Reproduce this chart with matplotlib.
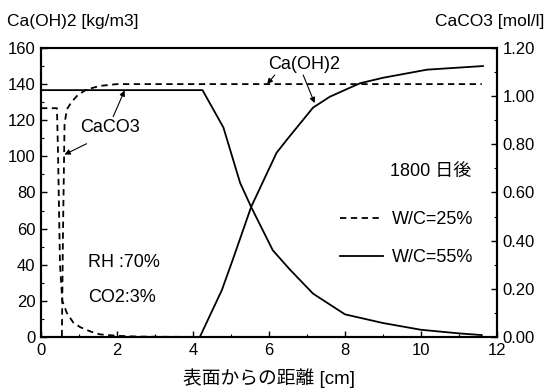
import matplotlib
matplotlib.use("Agg")
import matplotlib.pyplot as plt
from matplotlib.ticker import MultipleLocator, FormatStrFormatter

plt.rcParams['font.family'] = ['Liberation Sans', 'Noto Sans CJK JP']

# --- data -------------------------------------------------------------
# W/C = 55 %  (solid)
x55_caoh2 = [0, 4.18, 4.76, 5.05, 5.53, 6.2, 6.5, 7.16, 7.6, 8.13, 8.4, 9.0, 10.16, 11.63]
caoh2_55 = [0, 0, 26, 43, 72, 102, 110, 127, 133, 138, 140.5, 143.5, 148, 150]   # kg/m3

x55_caco3 = [0, 4.25, 4.8, 5.24, 5.53, 6.1, 6.55, 7.16, 8.0, 9.0, 10.0, 11.0, 11.6]
caco3_55 = [1.025, 1.025, 0.87, 0.64, 0.54, 0.36, 0.28, 0.18, 0.094, 0.058, 0.03, 0.015, 0.008]  # mol/l

# W/C = 25 %  (dashed)
x25_caoh2 = [0, 0.55, 0.58, 0.62, 0.68, 0.8, 0.97, 1.2, 1.55, 2.0, 2.5, 11.6]
caoh2_25 = [0, 0, 60, 118, 126, 130, 134, 137, 139, 140, 140, 140]   # kg/m3

x25_caco3 = [0, 0.42, 0.45, 0.5, 0.56, 0.68, 0.85, 1.03, 1.3, 1.55, 2.0, 2.5, 3.0, 4.5]
caco3_25 = [0.95, 0.95, 0.75, 0.30, 0.15, 0.10, 0.06, 0.041, 0.023, 0.011, 0.005, 0.002, 0.001, 0]  # mol/l

left_ticks = [0, 20, 40, 60, 80, 100, 120, 140, 160]
right_ticks = [0.0, 0.2, 0.4, 0.6, 0.8, 1.0, 1.2]
x_ticks = [0, 2, 4, 6, 8, 10, 12]

# --- figure -----------------------------------------------------------
fig = plt.figure(figsize=(5.51, 3.92), dpi=100)
ax = fig.add_axes([0.0744, 0.1403, 0.8276, 0.7373])
ax2 = ax.twinx()

lw = 1.3
dash = (0, (3.5, 2.5))
ax.plot(x55_caoh2, caoh2_55, color='black', lw=lw, label='W/C=55%')
ax.plot(x25_caoh2, caoh2_25, color='black', lw=lw, linestyle=dash, label='W/C=25%')
ax2.plot(x55_caco3, caco3_55, color='black', lw=lw)
ax2.plot(x25_caco3, caco3_25, color='black', lw=lw, linestyle=dash)

ax.set_xlim(0, 12)
ax.set_ylim(0, 160)
ax2.set_ylim(0, 1.2)
ax.set_xticks(x_ticks)
ax.set_yticks(left_ticks)
ax2.set_yticks(right_ticks)
ax2.yaxis.set_major_formatter(FormatStrFormatter('%.2f'))
ax.xaxis.set_minor_locator(MultipleLocator(1))
ax.yaxis.set_minor_locator(MultipleLocator(10))
ax2.yaxis.set_minor_locator(MultipleLocator(0.1))

for a in (ax, ax2):
    for s in a.spines.values():
        s.set_linewidth(1.5)
ax.tick_params(axis='both', which='major', direction='in', length=4, width=1, labelsize=12, pad=4)
ax.tick_params(axis='both', which='minor', direction='in', length=2, width=0.8)
ax2.tick_params(axis='y', which='major', direction='in', length=4, width=1, labelsize=12, pad=4)
ax2.tick_params(axis='y', which='minor', direction='in', length=2, width=0.8)

ax.set_xlabel('表面からの距離 [cm]', fontsize=13.5, labelpad=8)
fig.text(0.013, 0.944, 'Ca(OH)2 [kg/m3]', fontsize=12.5, ha='left', va='center')
fig.text(0.988, 0.944, 'CaCO3 [mol/l]', fontsize=12.5, ha='right', va='center')

# annotations
fs = 13
ax.text(2.18, 41.5, 'RH :70%', fontsize=fs, ha='center', va='center')
ax.text(2.13, 22, 'CO2:3%', fontsize=fs, ha='center', va='center')
ax.text(10.25, 91.5, '1800 日後', fontsize=fs, ha='center', va='center')

arrow = dict(arrowstyle='-|>', color='black', lw=0.8, mutation_scale=8, shrinkA=0, shrinkB=0)
ax.text(6.92, 151, 'Ca(OH)2', fontsize=fs, ha='center', va='center')
ax.annotate('', xy=(5.95, 140), xytext=(6.15, 145), arrowprops=arrow)
ax.annotate('', xy=(7.2, 129.5), xytext=(6.9, 145), arrowprops=arrow)
ax.text(1.82, 116, 'CaCO3', fontsize=fs, ha='center', va='center')
ax.annotate('', xy=(2.2, 136.5), xytext=(1.9, 122), arrowprops=arrow)
ax.annotate('', xy=(0.62, 101), xytext=(1.2, 107), arrowprops=arrow)

leg = ax.legend(handles=ax.get_lines()[::-1], loc='center left', bbox_to_anchor=(0.635, 0.34),
                frameon=False, fontsize=fs, handlelength=2.4, handletextpad=0.5,
                labelspacing=1.15, borderpad=0)

fig.savefig('out.png', dpi=100)
